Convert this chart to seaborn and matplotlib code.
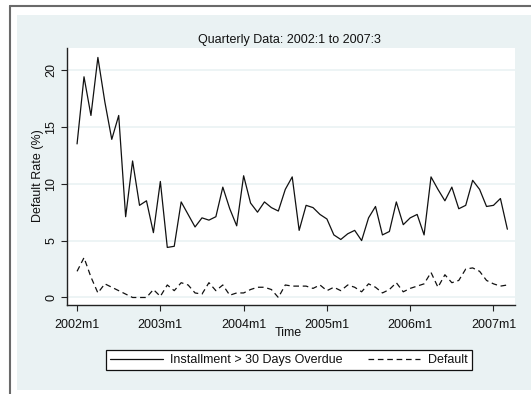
import numpy as np
import pandas as pd
import matplotlib
matplotlib.use("Agg")
import matplotlib.pyplot as plt
from matplotlib.lines import Line2D
from matplotlib.patches import Rectangle
import seaborn as sns

# Monthly observations, 2002m1 .. 2007m3
periods = pd.period_range("2002-01", "2007-03", freq="M")

installment_overdue = [
    13.5, 19.4, 16.0, 21.1, 17.2, 13.9, 16.0, 7.1, 12.0, 8.1, 8.5, 5.7,
    10.2, 4.4, 4.5, 8.4, 7.3, 6.2, 7.0, 6.8, 7.1, 9.7, 7.8, 6.3,
    10.7, 8.3, 7.5, 8.4, 7.9, 7.6, 9.5, 10.6, 5.9, 8.1, 7.9, 7.3,
    6.9, 5.5, 5.1, 5.6, 5.9, 5.0, 7.0, 8.0, 5.5, 5.8, 8.4, 6.4,
    7.0, 7.3, 5.5, 10.6, 9.5, 8.5, 9.7, 7.8, 8.1, 10.3, 9.5, 8.0,
    8.1, 8.7, 6.0,
]

default_rate = [
    2.3, 3.5, 1.8, 0.4, 1.2, 0.9, 0.6, 0.3, 0.0, 0.0, 0.0, 0.7,
    0.1, 1.1, 0.6, 1.3, 1.1, 0.4, 0.3, 1.3, 0.6, 1.1, 0.2, 0.4,
    0.4, 0.7, 0.9, 0.9, 0.7, 0.0, 1.1, 1.0, 1.0, 1.0, 0.8, 1.1,
    0.6, 0.9, 0.6, 1.1, 0.9, 0.5, 1.2, 0.9, 0.4, 0.7, 1.3, 0.5,
    0.8, 1.0, 1.2, 2.2, 0.9, 2.0, 1.3, 1.5, 2.5, 2.6, 2.3, 1.5,
    1.2, 1.0, 1.1,
]

tick_labels = ["2002m1", "2003m1", "2004m1", "2005m1", "2006m1", "2007m1"]
y_ticks = [0, 5, 10, 15, 20]

series_names = ["Installment > 30 Days Overdue", "Default"]

# month offset from 2002m1 on the time axis
start = pd.Period("2002-01", freq="M")
month_idx = np.array([(p - start).n for p in periods])
tick_pos = [(pd.Period(lbl.replace("m", "-"), freq="M") - start).n for lbl in tick_labels]

df = pd.DataFrame({"t": month_idx,
                   "inst": installment_overdue,
                   "dflt": default_rate})

sns.set_theme(style="white")
plt.rcParams["font.family"] = ["Liberation Sans", "DejaVu Sans"]

W, H = 531, 394
fig = plt.figure(figsize=(W / 100, H / 100), dpi=100, facecolor="white")

def fx(px):
    return px / W

def fy(py):
    return 1 - py / H

# graph region background and outer frame
bg = "#eaf2f3"
fig.patches.append(Rectangle((fx(17), fy(390)), fx(W) - fx(17), fy(15) - fy(390),
                             transform=fig.transFigure, facecolor=bg,
                             edgecolor="none", zorder=-5))
fig.lines.append(Line2D([fx(10), fx(10)], [fy(6), 0], transform=fig.transFigure,
                        color="#6a6a6a", lw=1.5, zorder=-4))
fig.lines.append(Line2D([fx(10), 1], [fy(6), fy(6)], transform=fig.transFigure,
                        color="#6a6a6a", lw=1.5, zorder=-4))

left, right, top, bottom = 67, 515, 48, 305
ax = fig.add_axes([fx(left), fy(bottom), fx(right) - fx(left), fy(top) - fy(bottom)])
ax.set_zorder(2)
ax.set_facecolor("white")

sns.lineplot(data=df, x="t", y="inst", ax=ax, color="#111111", lw=0.9,
             label=series_names[0], legend=False)
sns.lineplot(data=df, x="t", y="dflt", ax=ax, color="#111111", lw=0.9,
             linestyle=(0, (4.5, 3)), label=series_names[1], legend=False)

ax.set_xlim(-1.45, 63.1)
ax.set_ylim(-0.66, 21.93)

ax.set_xticks(tick_pos)
ax.set_xticklabels(tick_labels)
ax.set_yticks(y_ticks)
ax.set_yticklabels([str(v) for v in y_ticks], rotation=90, va="center")

ax.grid(axis="y", color=bg, lw=1.2)
ax.grid(axis="x", visible=False)
for s in ["top", "right"]:
    ax.spines[s].set_visible(False)
for s in ["left", "bottom"]:
    ax.spines[s].set_color("#222222")
    ax.spines[s].set_linewidth(1.0)

ax.tick_params(axis="both", which="major", direction="out", length=4,
               width=0.8, color="#222222", labelsize=9, labelcolor="#111111",
               left=True, bottom=True)
ax.tick_params(axis="x", pad=6)
ax.tick_params(axis="y", pad=3)
ax.set_xlabel("")
ax.set_ylabel("")

fig.text(fx(289), fy(40), "Quarterly Data: 2002:1 to 2007:3", ha="center",
         va="center", fontsize=9, color="#111111")
fig.text(fx(38), fy(176), "Default Rate (%)", ha="center", va="center",
         rotation=90, fontsize=9, color="#111111")
fig.text(fx(288), fy(333), "Time", ha="center", va="center", fontsize=9,
         color="#111111", zorder=3)

handles = [Line2D([], [], color="#111111", lw=0.9),
           Line2D([], [], color="#111111", lw=0.9, linestyle=(0, (4.5, 3)))]
leg = fig.legend(handles, series_names, loc="center",
                 bbox_to_anchor=(fx(289), fy(360)), ncol=2, fontsize=9,
                 frameon=True, fancybox=False, edgecolor="#111111",
                 framealpha=1, handlelength=4.2, handletextpad=0.6,
                 columnspacing=2.0, borderpad=0.35)
leg.get_frame().set_linewidth(0.9)
for t in leg.get_texts():
    t.set_color("#111111")

fig.savefig("out.png", dpi=100, facecolor="white")
